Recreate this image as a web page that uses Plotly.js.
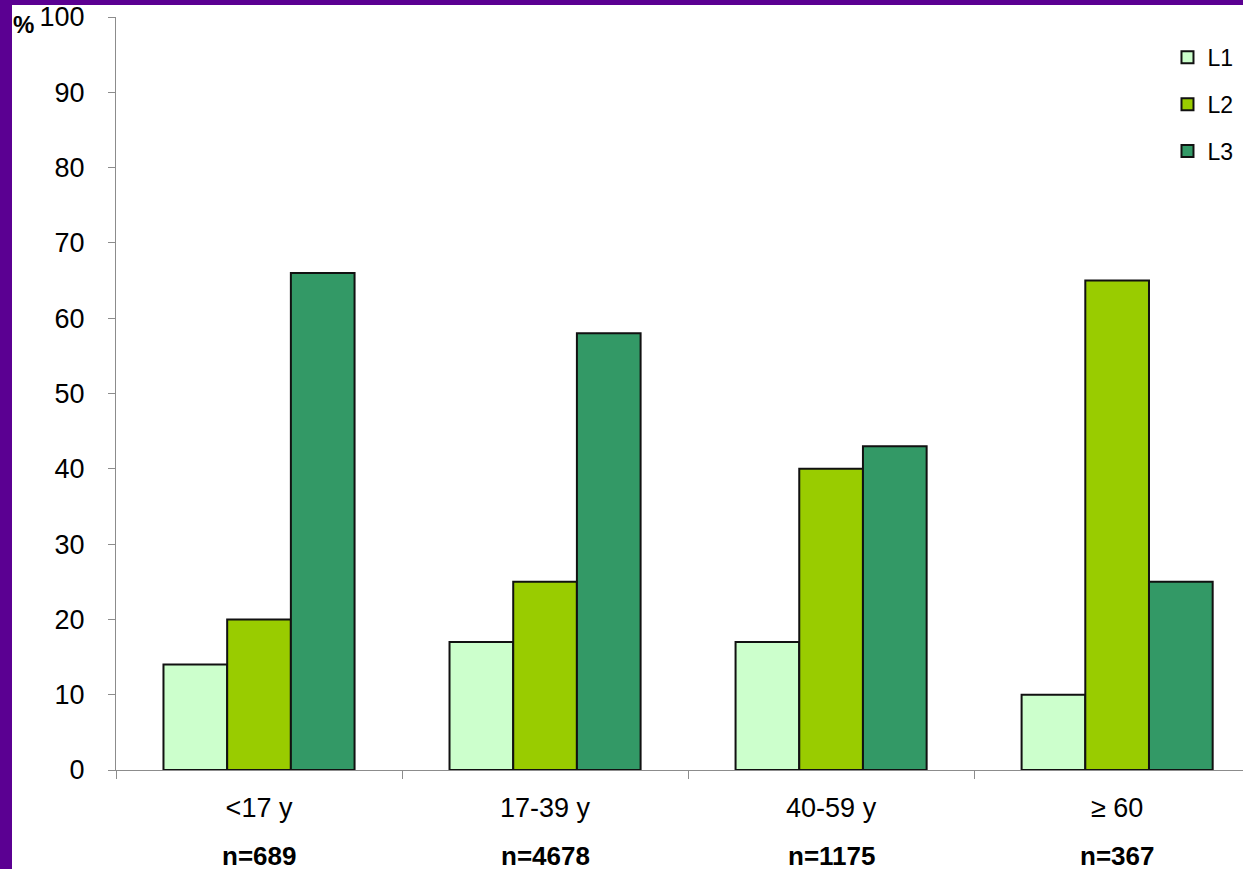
<!DOCTYPE html>
<html>
<head>
<meta charset="utf-8">
<script src="https://cdn.plot.ly/plotly-3.0.1.min.js"></script>
<style>
  html, body { margin: 0; padding: 0; background: #5B0092; width: 1243px; height: 869px; overflow: hidden; }
  #chart { position: absolute; left: 12px; top: 5px; width: 1231px; height: 864px; background: #ffffff; }
</style>
</head>
<body>
<div id="chart"></div>
<script>
// Age groups and their sample sizes
const ageGroups = ['<17 y', '17-39 y', '40-59 y', '\u2265 60'];
const sampleSizes = ['n=689', 'n=4678', 'n=1175', 'n=367'];

// Share (%) of each level within an age group
const seriesNames = ['L1', 'L2', 'L3'];
const valuesL1 = [14, 17, 17, 10];
const valuesL2 = [20, 25, 40, 65];
const valuesL3 = [66, 58, 43, 25];

const seriesColors = ['#CCFFCC', '#99CC00', '#339966'];
const seriesValues = [valuesL1, valuesL2, valuesL3];

const traces = seriesNames.map((name, i) => ({
  type: 'bar',
  name: name,
  x: ageGroups,
  y: seriesValues[i],
  legendgroup: name,
  marker: { color: seriesColors[i], line: { color: '#111111', width: 2 } },
  hoverinfo: 'x+y+name'
}));

const font = 'Arial, "Liberation Sans", sans-serif';

const annotations = ageGroups.map((g, i) => ({
  x: g, xref: 'x',
  y: -0.114, yref: 'paper',
  text: '<b>' + sampleSizes[i] + '</b>',
  showarrow: false,
  xanchor: 'center', yanchor: 'middle',
  font: { family: font, size: 26, color: '#000000' }
}));
annotations.push({
  x: -0.093, xref: 'paper',
  y: 0.990, yref: 'paper',
  text: '<b>%</b>',
  showarrow: false,
  xanchor: 'left', yanchor: 'middle',
  font: { family: font, size: 24, color: '#000000' }
});

const layout = {
  width: 1231,
  height: 864,
  margin: { l: 104, r: 0, t: 12, b: 99, pad: 0 },
  paper_bgcolor: '#ffffff',
  plot_bgcolor: '#ffffff',
  barmode: 'group',
  bargap: 0.332,
  bargroupgap: 0,
  showlegend: true,
  legend: {
    x: 0.933, xanchor: 'left',
    y: 0.975, yanchor: 'top',
    traceorder: 'grouped',
    tracegroupgap: 14,
    itemwidth: 30,
    font: { family: font, size: 23, color: '#000000' },
    bgcolor: 'rgba(0,0,0,0)'
  },
  xaxis: {
    type: 'category',
    range: [-0.5, 3.44],
    showline: true,
    linecolor: '#8c8c8c',
    linewidth: 1,
    ticks: 'outside',
    tickson: 'boundaries',
    ticklen: 8,
    tickcolor: '#8c8c8c',
    ticklabelstandoff: 14,
    showgrid: false,
    zeroline: false,
    tickfont: { family: font, size: 27, color: '#000000' },
    fixedrange: true
  },
  yaxis: {
    range: [0, 100],
    tickvals: [0, 10, 20, 30, 40, 50, 60, 70, 80, 90, 100],
    showline: true,
    linecolor: '#8c8c8c',
    linewidth: 1,
    ticks: 'outside',
    ticklen: 7,
    tickcolor: '#8c8c8c',
    ticklabelstandoff: 18,
    ticklabeloverflow: 'allow',
    showgrid: false,
    zeroline: false,
    tickfont: { family: font, size: 27, color: '#000000' },
    fixedrange: true
  },
  annotations: annotations
};

Plotly.newPlot('chart', traces, layout, { displayModeBar: false, staticPlot: true });
</script>
</body>
</html>
